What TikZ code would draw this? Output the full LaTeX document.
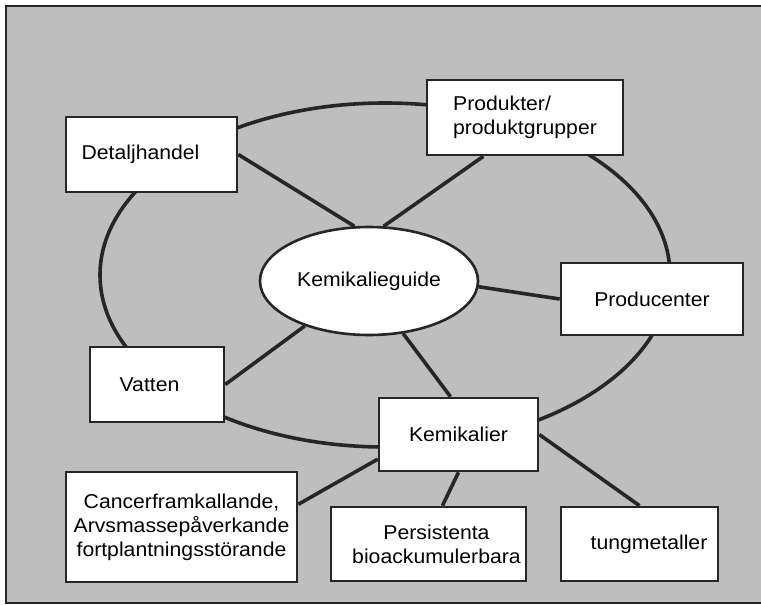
\documentclass[tikz,border=0pt]{standalone}
\usepackage{fontspec}
\setmainfont{Liberation Sans}[FakeStretch=1.06]
\usetikzlibrary{positioning,shapes.geometric}
\definecolor{kbg}{HTML}{BEBEBE}
\definecolor{kline}{HTML}{262626}

\begin{document}
\begin{tikzpicture}[x=1pt, y=-1pt, font=\fontsize{20}{24}\selectfont, text=black,
  card/.style={draw=kline, line width=2.6pt, fill=white, align=center, inner sep=0pt},
  hub/.style={ellipse, draw=kline, line width=2.6pt, fill=white, inner sep=0pt,
    minimum width=218pt, minimum height=108pt},
  link/.style={draw=kline, line width=3.6pt}]
\useasboundingbox (0,0) rectangle (761,605);
\fill[kbg] (6,6) rectangle (761,603);
\draw[kline, line width=1.4pt] (761,6) -- (6,6) -- (6,603) -- (761,603);
% the ring through the outer boxes
\draw[link] (385,275) ellipse [x radius=285, y radius=172];
% boxes
\node[hub] (guide) at (369,281) {Kemikalieguide};
\node[card, minimum width=171pt, minimum height=75pt] (det) at (151.5,154.5) {\raisebox{3pt}{Detaljhandel}\hspace{22pt}};
\node[card, minimum width=196pt, minimum height=75pt, align=left] (prod) at (525,117.5) {Produkter/\\produktgrupper};
\node[card, minimum width=182pt, minimum height=72pt] (prodc) at (652,299) {Producenter};
\node[card, minimum width=134pt, minimum height=75pt] (vat) at (157,384.5) {Vatten\hspace{15pt}};
\node[card, minimum width=159pt, minimum height=73pt] (kem) at (458.5,434.5) {Kemikalier};
\node[card, minimum width=231pt, minimum height=110pt] (canc) at (181.5,527) {Cancerframkallande,\\Arvsmassepåverkande\\fortplantningsstörande};
\node[card, minimum width=195pt, minimum height=74pt] (pers) at (428.5,544) {\hspace*{16pt}Persistenta\\\hspace*{16pt}bioackumulerbara};
\node[card, minimum width=157pt, minimum height=74pt] (tung) at (639.5,544) {\hspace*{19pt}tungmetaller};
% spokes
\draw[link] (det.east) -- (guide.105);
\draw[link] (prod.223) -- (guide.75);
\draw[link] (guide.-3) -- (prodc.west);
\draw[link] (guide.215) -- (vat.east);
\draw[link] (guide.-57) -- (kem.102);
\draw[link] (kem.197) -- (canc.11);
\draw[link] (kem.south) -- (pers.70);
\draw[link] (kem.east) -- (tung.north);
\end{tikzpicture}
\end{document}
